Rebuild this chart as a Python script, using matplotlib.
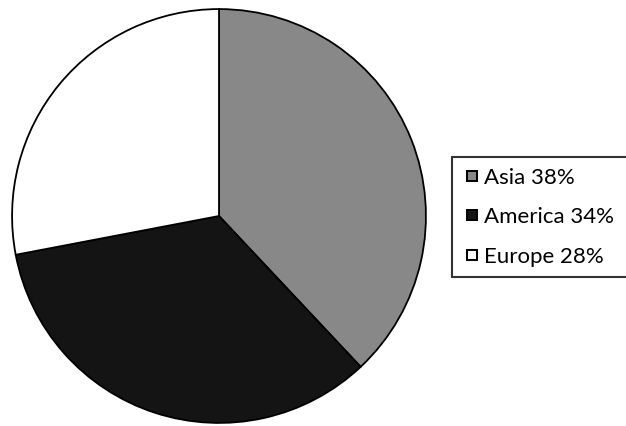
import matplotlib
matplotlib.use("Agg")
import matplotlib.pyplot as plt
from matplotlib.lines import Line2D

# -----------------------------------------------------
# data
regions = ["Asia", "America", "Europe"]
shares = [38, 34, 28]
colors = ["#888888", "#141414", "#ffffff"]

# -----------------------------------------------------

fig = plt.figure(figsize=(6.26, 4.26), dpi=100)
ax = fig.add_axes([10 / 626, 1 / 426, 418 / 626, 418 / 426])
ax.pie(shares, colors=colors, startangle=90, counterclock=False,
       radius=1.0, wedgeprops={"edgecolor": "black", "linewidth": 1.3})
ax.set_xlim(-1.01, 1.01)
ax.set_ylim(-1.01, 1.01)
ax.set_aspect("equal")
ax.axis("off")

handles = [Line2D([], [], linestyle="none", marker="s", markersize=7.5,
                  markerfacecolor=c, markeredgecolor="black",
                  markeredgewidth=1.4) for c in colors]
labels = [name + " " + str(v) + "%" for name, v in zip(regions, shares)]
leg = fig.legend(handles, labels, loc="upper left", mode="expand",
                 bbox_to_anchor=(452 / 626, 1 - 157 / 426, 182 / 626, 0),
                 frameon=True, fancybox=False, edgecolor="black",
                 handlelength=0.86, handletextpad=0.1,
                 labelspacing=0.88, borderpad=0.48,
                 borderaxespad=0, prop={"family": "Lato", "size": 16})
leg.get_frame().set_linewidth(1.5)

fig.savefig("out.png", dpi=100)
